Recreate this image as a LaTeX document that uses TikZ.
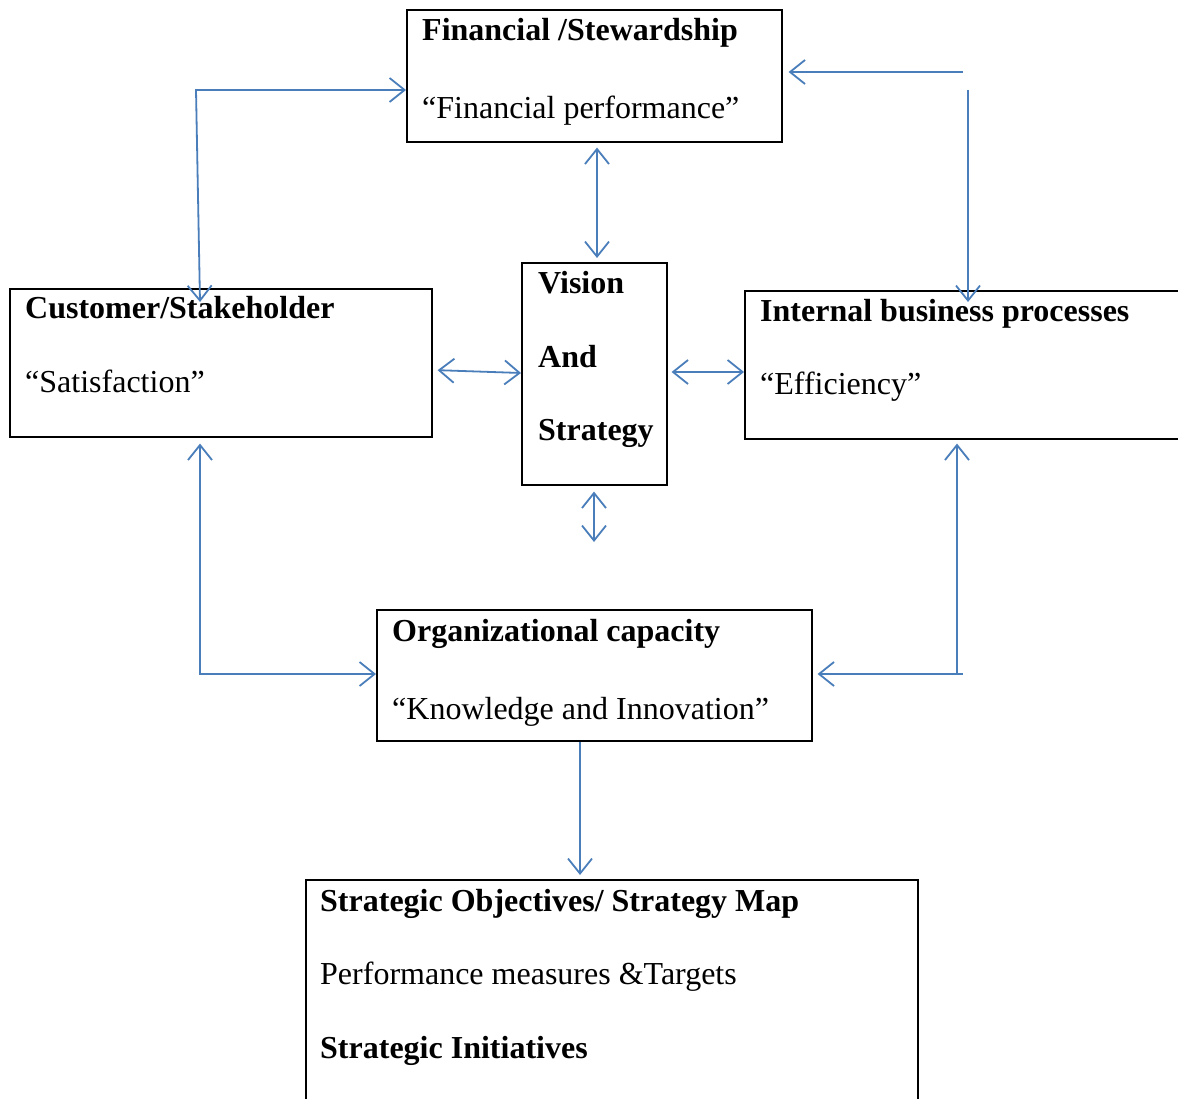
\documentclass[tikz,border=0pt]{standalone}
\usepackage{fontspec}
\setmainfont{Liberation Serif}
\usetikzlibrary{arrows.meta,calc}
\definecolor{linkblue}{RGB}{74,126,187}
\begin{document}
\begin{tikzpicture}[x=1pt,y=-1pt,
  >={Straight Barb[length=15pt,width=24pt]},
  box/.style={draw=black,line width=1.6pt,rectangle,inner sep=0pt,anchor=north west},
  txt/.style={inner sep=0pt,anchor=base west,font=\fontsize{32}{38}\selectfont},
  btxt/.style={inner sep=0pt,anchor=base west,font=\fontsize{32}{38}\selectfont\bfseries},
  link/.style={draw=linkblue,line width=1.8pt}]
\useasboundingbox (0,0) rectangle (1178,1099);
\clip (0,0) rectangle (1178,1099);
\fill[white] (0,0) rectangle (1178,1099);
% boxes
\node[box,minimum width=375pt,minimum height=132pt] (fin) at (406,9) {};
\node[box,minimum width=422pt,minimum height=148pt] (cust) at (9,288) {};
\node[box,minimum width=145pt,minimum height=222pt] (vis) at (521,262) {};
\node[box,minimum width=460pt,minimum height=148pt] (int) at (744,290) {};
\node[box,minimum width=435pt,minimum height=131pt] (org) at (376,609) {};
\node[box,minimum width=612pt,minimum height=240pt] (bot) at (305,879) {};
% texts
\node[btxt] (fin1) at (422,41) {Financial /Stewardship};
\node[txt]  (fin2) at (422,119) {“Financial performance”};
\node[btxt] (cust1) at (25,319) {Customer/Stakeholder};
\node[txt]  (cust2) at (25,392) {“Satisfaction”};
\node[btxt] (vis1) at (538,294) {Vision};
\node[btxt] (vis2) at (538,367) {And};
\node[btxt] (vis3) at (538,440) {Strategy};
\node[btxt] (int1) at (760,322) {Internal business processes};
\node[txt]  (int2) at (760,394) {“Efficiency”};
\node[btxt] (org1) at (392,641) {Organizational capacity};
\node[txt]  (org2) at (392,719) {“Knowledge and Innovation”};
\node[btxt] (bot1) at (320,911) {Strategic Objectives/ Strategy Map};
\node[txt]  (bot2) at (320,984) {Performance measures \&Targets};
\node[btxt] (bot3) at (320,1058) {Strategic Initiatives};
% coordinates
\coordinate (cfA) at (200,302);
\coordinate (cfB) at (196,90);
\coordinate (fiA) at (963,72);
\coordinate (fiB) at (968,90);
\coordinate (fiC) at (968,302);
\coordinate (fv) at (597,0);
\coordinate (cv1) at (0,370);
\coordinate (cv2) at (0,373);
\coordinate (vi) at (0,372);
\coordinate (vb) at (594,542);
\coordinate (co) at (200,674);
\coordinate (io) at (957,674);
\coordinate (ob) at (580,0);
% connectors
\draw[link,<->] (cfA) -- (cfB) -- (cfB -| fin.west);
\draw[link,->,shorten >=6pt] (fiA) -- (fiA -| fin.east);
\draw[link,->] (fiB) -- (fiC);
\draw[link,<->,shorten <=5pt,shorten >=4pt] (fin.south -| fv) -- (vis.north -| fv);
\draw[link,<->,shorten <=5pt] (cv1 -| cust.east) -- (cv2 -| vis.west);
\draw[link,<->,shorten <=4pt] (vi -| vis.east) -- (vi -| int.west);
\draw[link,<->,shorten <=6pt] (vis.south -| vb) -- (vb);
\draw[link,<->,shorten <=6pt] (cust.south -| co) -- (co) -- (co -| org.west);
\draw[link,<->,shorten <=4pt,shorten >=5pt] (int.south -| io) -- (io) -- (io -| org.east);
\draw[link] (io) -- ++(6,0);
\draw[link,->,shorten >=4pt] (org.south -| ob) -- (bot.north -| ob);
\end{tikzpicture}
\end{document}
